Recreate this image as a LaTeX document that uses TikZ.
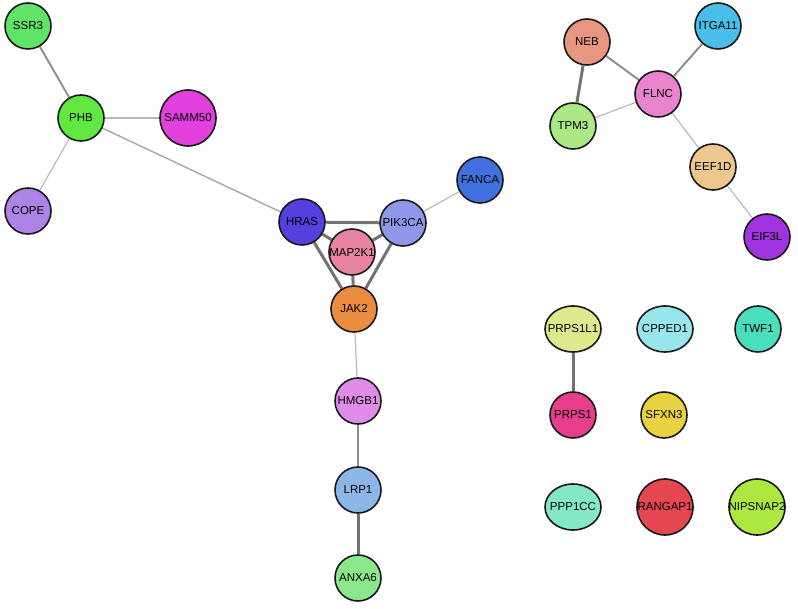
\documentclass[tikz,border=0pt]{standalone}
\usepackage{fontspec}
\setmainfont{Liberation Sans}
\usepackage{xcolor}
\definecolor{ssrGreen}{RGB}{96, 228, 104}
\definecolor{phbGreen}{RGB}{96, 232, 64}
\definecolor{sammMagenta}{RGB}{226, 64, 220}
\definecolor{copeLilac}{RGB}{172, 132, 230}
\definecolor{hrasBlue}{RGB}{84, 64, 222}
\definecolor{pikBlue}{RGB}{144, 150, 232}
\definecolor{mapPink}{RGB}{232, 132, 160}
\definecolor{jakOrange}{RGB}{236, 140, 64}
\definecolor{fancaBlue}{RGB}{64, 112, 222}
\definecolor{hmgbPink}{RGB}{222, 140, 232}
\definecolor{lrpBlue}{RGB}{140, 182, 232}
\definecolor{anxaGreen}{RGB}{140, 230, 140}
\definecolor{nebSalmon}{RGB}{232, 150, 130}
\definecolor{itgaCyan}{RGB}{72, 190, 232}
\definecolor{flncPink}{RGB}{232, 132, 204}
\definecolor{tpmGreen}{RGB}{172, 232, 132}
\definecolor{eefTan}{RGB}{236, 200, 140}
\definecolor{eifPurple}{RGB}{160, 52, 222}
\definecolor{prpsLime}{RGB}{222, 232, 140}
\definecolor{cppedCyan}{RGB}{150, 230, 236}
\definecolor{twfTeal}{RGB}{72, 222, 190}
\definecolor{prpsRose}{RGB}{230, 62, 140}
\definecolor{sfxnYellow}{RGB}{232, 210, 64}
\definecolor{pppMint}{RGB}{132, 232, 200}
\definecolor{ranRed}{RGB}{230, 70, 80}
\definecolor{nipLime}{RGB}{172, 232, 64}
\usepackage{tikz}
\usetikzlibrary{positioning,shapes,backgrounds}

% label that does not widen its node
\newcommand{\geneLabel}[1]{\makebox[0pt]{#1}}

\tikzset{
  gene/.style={circle, draw=black!90, line width=1.6pt, inner sep=0pt,
    minimum size=46pt, font=\fontsize{11.5}{13}\selectfont},
  bigGene/.style={gene, minimum size=56pt},
  wideGene/.style={gene, ellipse, minimum width=56pt, minimum height=46pt},
  weak/.style={draw=black!28, line width=1.2pt},
  medium/.style={draw=black!45, line width=1.9pt},
  strong/.style={draw=black!55, line width=3pt}
}

\begin{document}
\begin{tikzpicture}[x=1pt, y=-1pt]
\useasboundingbox (0,0) rectangle (798,609);

% left cluster
\node[gene, fill=ssrGreen] (ssr3) at (28,26) {SSR3};
\node[gene, fill=phbGreen] (phb) at (81,118) {PHB};
\node[bigGene, fill=sammMagenta] (samm50) at (188,118) {\geneLabel{SAMM50}};
\node[gene, fill=copeLilac] (cope) at (28,211) {COPE};

% central cluster
\node[gene, fill=hrasBlue] (hras) at (302,222) {HRAS};
\node[gene, fill=pikBlue] (pik3ca) at (403,223) {\geneLabel{PIK3CA}};
\node[gene, fill=mapPink] (map2k1) at (352,252) {\geneLabel{MAP2K1}};
\node[gene, fill=jakOrange] (jak2) at (354,309) {JAK2};
\node[gene, fill=fancaBlue] (fanca) at (480,180) {\geneLabel{FANCA}};
\node[gene, fill=hmgbPink] (hmgb1) at (358,401) {\geneLabel{HMGB1}};
\node[gene, fill=lrpBlue] (lrp1) at (358,490) {LRP1};
\node[gene, fill=anxaGreen] (anxa6) at (358,578) {\geneLabel{ANXA6}};

% upper right cluster
\node[gene, fill=nebSalmon] (neb) at (587,42) {NEB};
\node[gene, fill=itgaCyan] (itga11) at (718,26) {\geneLabel{ITGA11}};
\node[gene, fill=flncPink] (flnc) at (658,94) {FLNC};
\node[gene, fill=tpmGreen] (tpm3) at (573,126) {TPM3};
\node[gene, fill=eefTan] (eef1d) at (713,167) {\geneLabel{EEF1D}};
\node[gene, fill=eifPurple] (eif3l) at (767,237) {EIF3L};

% small groups and singletons
\node[wideGene, fill=prpsLime] (prps1l1) at (573,329) {\geneLabel{PRPS1L1}};
\node[wideGene, fill=cppedCyan] (cpped1) at (665,329) {\geneLabel{CPPED1}};
\node[gene, fill=twfTeal] (twf1) at (758,329) {TWF1};
\node[gene, fill=prpsRose] (prps1) at (573,415) {\geneLabel{PRPS1}};
\node[gene, fill=sfxnYellow] (sfxn3) at (664,415) {\geneLabel{SFXN3}};
\node[wideGene, fill=pppMint] (ppp1cc) at (573,507) {\geneLabel{PPP1CC}};
\node[bigGene, fill=ranRed] (rangap1) at (665,507) {\geneLabel{RANGAP1}};
\node[bigGene, fill=nipLime] (nipsnap2) at (757,507) {\geneLabel{NIPSNAP2}};

\begin{scope}[on background layer]
\draw[medium] (ssr3) -- (phb);
\draw[weak] (phb) -- (samm50);
\draw[weak] (phb) -- (cope);
\draw[medium, line width=1.4pt, draw=black!35] (phb) -- (hras);
\draw[strong] (hras) -- (pik3ca);
\draw[strong] (hras) -- (map2k1);
\draw[strong] (hras) -- (jak2);
\draw[strong] (pik3ca) -- (map2k1);
\draw[strong] (pik3ca) -- (jak2);
\draw[strong] (map2k1) -- (jak2);
\draw[weak] (pik3ca) -- (fanca);
\draw[weak] (jak2) -- (hmgb1);
\draw[medium] (hmgb1) -- (lrp1);
\draw[strong] (lrp1) -- (anxa6);
\draw[strong] (neb) -- (tpm3);
\draw[medium] (neb) -- (flnc);
\draw[weak] (tpm3) -- (flnc);
\draw[medium] (flnc) -- (itga11);
\draw[weak] (flnc) -- (eef1d);
\draw[weak] (eef1d) -- (eif3l);
\draw[strong] (prps1l1) -- (prps1);
\end{scope}
\end{tikzpicture}
\end{document}
